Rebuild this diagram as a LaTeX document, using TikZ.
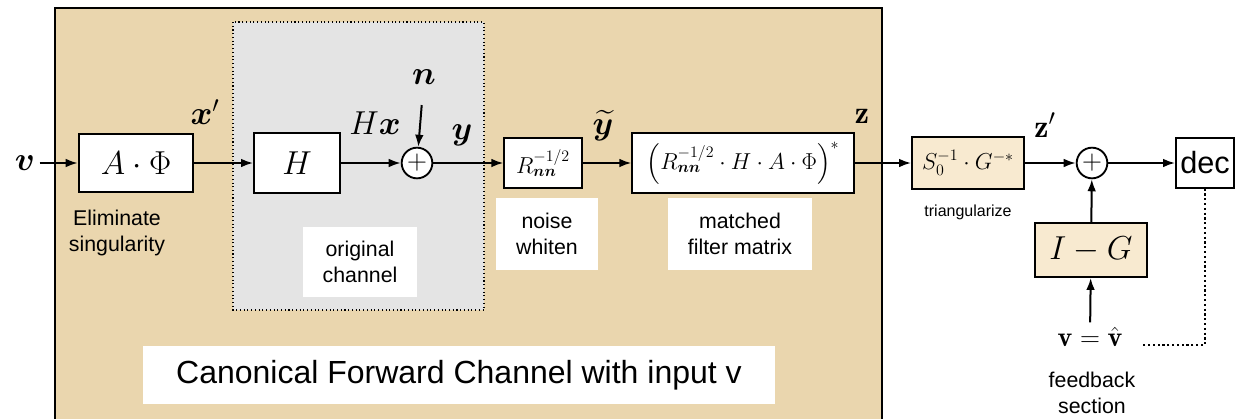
\documentclass[tikz,border=0pt]{standalone}
\usepackage{amsmath}
\usepackage{amssymb}
\usepackage{bm}
\usepackage{fontspec}
\newfontfamily\helv{Liberation Sans}
\usepackage{tikz}
\usetikzlibrary{arrows.meta, positioning, calc}
\definecolor{parchment}{HTML}{EAD6AE}
\definecolor{boxtan}{HTML}{F8EAD0}
\definecolor{noisegray}{HTML}{E4E4E4}

\begin{document}
\begin{tikzpicture}[
    x=0.75pt, y=-0.75pt,
    block/.style={
        rectangle,
        draw,
        line width=1.4pt,
        fill=white,
        inner sep=0pt,
        align=center
    },
    sumnode/.style={
        circle,
        draw,
        line width=1.4pt,
        fill=white,
        minimum size=23pt,
        inner sep=0pt,
        font=\fontsize{22}{22}\selectfont
    },
    sig/.style={font=\fontsize{24}{28}\selectfont},
    note/.style={font=\helv\fontsize{16}{20}\selectfont, align=center},
    notebox/.style={note, fill=white, inner sep=0pt},
    arrow/.style={
        -{Latex[length=9pt, width=6.5pt]},
        line width=1.5pt
    }
]
\useasboundingbox (0,0) rectangle (1235,419);

% === Backgrounds ===
\fill[parchment] (55,8) rectangle (882,419);
\draw[line width=2.2pt] (55,419) -- (55,8) -- (882,8) -- (882,419);
\fill[noisegray] (233,22) rectangle (484,310);
\draw[dotted, line width=0.8pt] (233,22) rectangle (484,310);

% === Forward channel blocks ===
\node[block, minimum width=86pt, minimum height=43pt, font=\fontsize{25}{28}\selectfont] (afi) at (136,163) {$A\cdot\Phi$};
\node[block, minimum width=64.5pt, minimum height=45pt, font=\fontsize{27}{30}\selectfont] (hbox) at (297,163) {$H$};
\node[sumnode] (sum1) at (417,163) {$+$};
\node[block, minimum width=58pt, minimum height=37.5pt, font=\fontsize{17}{20}\selectfont] (rnn) at (543,163) {$R_{\bm{nn}}^{-1/2}$};
\node[block, minimum width=166pt, minimum height=45pt, font=\fontsize{17}{20}\selectfont] (mf) at (743,163) {$\left(R_{\bm{nn}}^{-1/2}\cdot H\cdot A\cdot\Phi\right)^{*}$};

% === Feedback section blocks ===
\node[block, fill=boxtan, minimum width=84pt, minimum height=39pt, font=\fontsize{18}{20}\selectfont] (tri) at (968,163) {$S_0^{-1}\cdot G^{-*}$};
\node[sumnode] (sum2) at (1092,163) {$+$};
\node[block, minimum width=43.5pt, minimum height=37pt, font=\helv\fontsize{23}{26}\selectfont] (dec) at (1205,163) {dec};
\node[block, fill=boxtan, minimum width=84pt, minimum height=40.5pt, font=\fontsize{26}{30}\selectfont] (ig) at (1091,250) {$I-G$};
\node[font=\fontsize{21}{24}\selectfont] (vhat) at (1090,337) {$\mathbf{v}=\hat{\mathbf{v}}$};
\coordinate (fbend) at (1142,345);

% === Signal labels ===
\node[sig] (vin) at (25,163) {$\bm{v}$};
\node[sig] (xp) at (205,112) {$\bm{x}'$};
\node[sig] (hx) at (375,123) {$H\bm{x}$};
\node[sig] (nin) at (424,77) {$\bm{n}$};
\node[sig] (yout) at (462,135) {$\bm{y}$};
\node[sig] (ytil) at (603,126) {$\widetilde{\bm{y}}$};
\node[sig] (zout) at (862,116) {$\mathbf{z}$};
\node[sig] (zp) at (1045,125) {$\mathbf{z}'$};

% === Arrows ===
\draw[arrow] (vin) -- (afi);
\draw[arrow] (afi) -- (hbox);
\draw[arrow] (hbox) -- (sum1);
\draw[arrow, shorten <=12pt] (nin) -- (sum1);
\draw[arrow] (sum1) -- (rnn);
\draw[arrow] (rnn) -- (mf);
\draw[arrow] (mf) -- (tri);
\draw[arrow] (tri) -- (sum2);
\draw[arrow] (sum2) -- (dec);
\draw[arrow] (ig) -- (sum2);
\draw[arrow] (vhat) -- (ig);
\draw[dotted, line width=1.6pt] (dec.south) |- (fbend);

% === Descriptions ===
\node[note, font=\helv\fontsize{16}{19}\selectfont] (elim) at (117,233) {Eliminate\\singularity};
\node[notebox, minimum width=85.5pt, minimum height=53pt] (orig) at (360,262) {original\\channel};
\node[notebox, minimum width=76pt, minimum height=54pt] (nw) at (547,234) {noise\\whiten};
\node[notebox, minimum width=108pt, minimum height=54pt] (mfm) at (740,234) {matched\\filter matrix};
\node[note, font=\helv\fontsize{12}{14}\selectfont] (trilbl) at (968,212) {triangularize};
\node[note] (fbsec) at (1092,393) {feedback\\section};
\node[notebox, font=\helv\fontsize{24}{28}\selectfont, minimum width=474pt, minimum height=43.5pt] (canon) at (459,375) {Canonical Forward Channel with input v};

\end{tikzpicture}
\end{document}
